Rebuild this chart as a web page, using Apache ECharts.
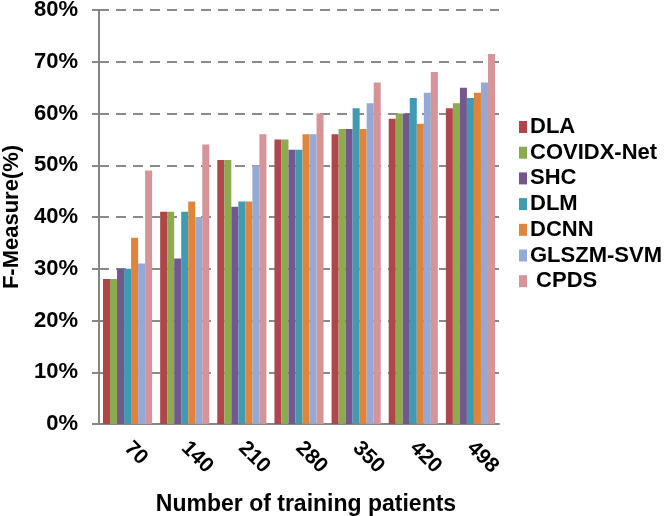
<!DOCTYPE html>
<html><head><meta charset="utf-8">
<script src="https://cdn.jsdelivr.net/npm/echarts@6/dist/echarts.min.js"></script>
<style>html,body{margin:0;padding:0;background:#fff}#c{width:666px;height:516px}</style>
</head><body><div id="c"></div>
<script>
var categories = ['70','140','210','280','350','420','498'];
var seriesNames = ['DLA','COVIDX-Net','SHC','DLM','DCNN','GLSZM-SVM',' CPDS'];
var DLA = [28,41,51,55,56,59,61];
var COVIDX = [28,41,51,55,57,60,62];
var SHC = [30,32,42,53,57,60,65];
var DLM = [30,41,43,53,61,63,63];
var DCNN = [36,43,43,56,57,58,64];
var GLSZM = [31,40,50,56,62,64,66];
var CPDS = [49,54,56,60,66,68,71.5];
var yTicks = [0,10,20,30,40,50,60,70,80];
var colors = ['#B0464A','#8CAA4E','#73588F','#3F9AB2','#E0843A','#94A9D3','#D69498'];
var data = [DLA,COVIDX,SHC,DLM,DCNN,GLSZM,CPDS];
var chart = echarts.init(document.getElementById('c'));
var font = 'Liberation Sans, Arial, sans-serif';
chart.setOption({
  animation:false,
  color: colors,
  grid:{left:99,right:167,top:10,bottom:92,containLabel:false,outerBoundsMode:'none'},
  legend:{
    orient:'vertical', left:514, top:111,
    itemWidth:8, itemHeight:12, itemGap:3.7,
    icon:'rect',
    textStyle:{fontFamily:font,fontWeight:'bold',fontSize:22,color:'#000',padding:[0,0,0,-2]},
    data: seriesNames
  },
  xAxis:{
    type:'category', data:categories,
    name:'Number of training patients', nameLocation:'middle', nameGap:69,
    nameTextStyle:{fontFamily:font,fontWeight:'bold',fontSize:23,color:'#000',padding:[0,0,0,14]},
    axisLine:{lineStyle:{color:'#868686',width:2}},
    axisTick:{lineStyle:{color:'#868686',width:2},length:6},
    axisLabel:{rotate:-45,fontFamily:font,fontWeight:'bold',fontSize:21,color:'#000',margin:21}
  },
  yAxis:{
    type:'value', min:yTicks[0], max:yTicks[yTicks.length-1], interval:10,
    name:'F-Measure(%)', nameLocation:'middle', nameGap:76,
    nameTextStyle:{fontFamily:font,fontWeight:'bold',fontSize:22,color:'#000'},
    axisLine:{show:true,lineStyle:{color:'#868686',width:2}},
    axisTick:{show:true,lineStyle:{color:'#868686',width:2},length:7},
    axisLabel:{formatter:'{value}%',fontFamily:font,fontWeight:'bold',fontSize:22,color:'#000',margin:21},
    splitLine:{lineStyle:{color:'#8a8a8a',type:[10,7],width:2}}
  },
  series: data.map(function(d,i){
    return {name:seriesNames[i],type:'bar',data:d,barGap:'0%',barCategoryGap:'14%'};
  })
});
</script></body></html>
